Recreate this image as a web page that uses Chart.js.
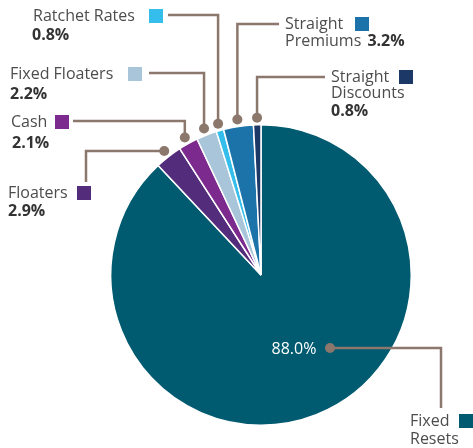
<!DOCTYPE html>
<html>
<head>
<meta charset="utf-8">
<script src="https://cdn.jsdelivr.net/npm/chart.js@4"></script>
<style>
  html, body { margin: 0; padding: 0; background: #fff; }
  #wrap { width: 473px; height: 448px; position: relative; }
</style>
</head>
<body>
<div id="wrap"><canvas class="jsMixChart"></canvas></div>
<script>
'use strict';

// slices go clockwise from 12 o'clock
const categories = ['Fixed Resets', 'Floaters', 'Cash', 'Fixed Floaters', 'Ratchet Rates', 'Straight Premiums', 'Straight Discounts'];
const shares = [88.0, 2.9, 2.1, 2.2, 0.8, 3.2, 0.8];
const shareLabels = ['88.0%', '2.9%', '2.1%', '2.2%', '0.8%', '3.2%', '0.8%'];
const colors = ['#005a70', '#532d7b', '#7d2a8e', '#a8c5d9', '#35bdeb', '#1b73a9', '#1c3867'];

const LINE = '#8b776b';
const TEXT = '#4d4d4f';
const FONT = '"Open Sans", sans-serif';

// leader line + label layout for each slice (same order as categories)
// elbow: vertical first (v) to y, then horizontal to x; or horizontal first (h)
const callouts = [
  {dot: [69, 73], elbow: {h: true, x: 441, y: 408},
    lines: [{t: 'Fixed', x: 410, y: 421, sq: 459}, {t: 'Resets', x: 410, y: 439}]},
  {elbow: {h: true, x: 86, y: 182},
    lines: [{t: 'Floaters', x: 8, y: 193, sq: 77}, {t: '%', x: 8, y: 211, bold: true}]},
  {elbow: {x: 73, y: 121},
    lines: [{t: 'Cash', x: 11, y: 122, sq: 55}, {t: '%', x: 12, y: 143, bold: true}]},
  {elbow: {x: 149, y: 73},
    lines: [{t: 'Fixed Floaters', x: 10, y: 74, sq: 128}, {t: '%', x: 10, y: 94, bold: true}]},
  {elbow: {x: 168, y: 15},
    lines: [{t: 'Ratchet Rates', x: 33, y: 16, sq: 149}, {t: '%', x: 32, y: 35, bold: true}]},
  {elbow: {x: 279, y: 24},
    lines: [{t: 'Straight', x: 285, y: 24, sq: 355}, {t: 'Premiums', x: 285, y: 41, pctAfter: true}]},
  {elbow: {x: 325, y: 77},
    lines: [{t: 'Straight', x: 331, y: 77, sq: 399}, {t: 'Discounts', x: 331, y: 93}, {t: '%', x: 331, y: 111, bold: true}]}
];

const calloutPlugin = {
  id: 'callouts',
  afterDraw(chart) {
    let ctx = chart.ctx,
      arcs = chart.getDatasetMeta(0).data;

    ctx.save();
    arcs.forEach((arc, i) => {
      let c = callouts[i],
        mid = (arc.startAngle + arc.endAngle) / 2,
        dx, dy;

      if (c.dot) {
        dx = arc.x + c.dot[0];
        dy = arc.y + c.dot[1];
      } else {
        dx = arc.x + Math.cos(mid) * (arc.outerRadius + 7);
        dy = arc.y + Math.sin(mid) * (arc.outerRadius + 7);
      }

      // leader line
      ctx.strokeStyle = LINE;
      ctx.lineWidth = 2.5;
      ctx.beginPath();
      ctx.moveTo(dx, dy);
      if (c.elbow.h) {
        ctx.lineTo(c.elbow.x, dy);
        ctx.lineTo(c.elbow.x, c.elbow.y);
      } else {
        ctx.lineTo(dx, c.elbow.y);
        ctx.lineTo(c.elbow.x, c.elbow.y);
      }
      ctx.stroke();
      ctx.fillStyle = LINE;
      ctx.beginPath();
      ctx.arc(dx, dy, 5, 0, Math.PI * 2);
      ctx.fill();

      // text
      ctx.textBaseline = 'middle';
      ctx.textAlign = 'left';
      c.lines.forEach(l => {
        let txt = l.t === '%' ? shareLabels[i] : l.t;
        ctx.font = (l.bold ? '700 ' : '400 ') + '16px ' + FONT;
        ctx.fillStyle = l.bold ? '#333' : TEXT;
        ctx.fillText(txt, l.x, l.y);
        if (l.pctAfter) {
          let w = ctx.measureText(txt + ' ').width;
          ctx.font = '700 16px ' + FONT;
          ctx.fillStyle = '#333';
          ctx.fillText(shareLabels[i], l.x + w + 2, l.y);
        }
        if (l.sq) {
          ctx.fillStyle = colors[i];
          ctx.fillRect(l.sq, l.y - 7, 14, 14);
        }
      });
    });

    // big slice value sits inside the pie
    ctx.font = '400 16px ' + FONT;
    ctx.fillStyle = '#fff';
    ctx.textAlign = 'center';
    ctx.fillText(shareLabels[0], arcs[0].x + 33, arcs[0].y + 74);
    ctx.restore();
  }
};

function buildMixChart() {
  let ctx = document.querySelector('.jsMixChart');

  new Chart(ctx, {
    type: 'pie',
    data: {
      labels: categories,
      datasets: [{
        data: shares,
        backgroundColor: colors,
        borderColor: '#fff',
        borderWidth: 1.5
      }]
    },
    options: {
      responsive: true,
      maintainAspectRatio: false,
      animation: false,
      layout: {
        padding: {left: 110, right: 61, top: 124, bottom: 22}
      },
      plugins: {
        legend: {display: false},
        tooltip: {enabled: false}
      }
    },
    plugins: [calloutPlugin]
  });
}

buildMixChart();
</script>
</body>
</html>
